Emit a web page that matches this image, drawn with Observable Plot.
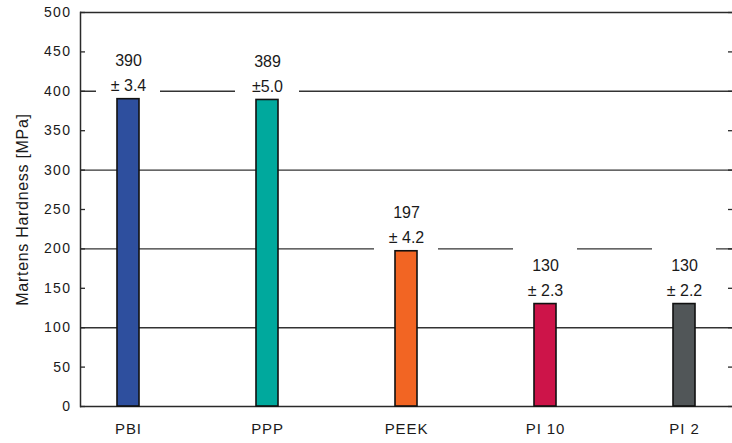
<!DOCTYPE html>
<html>
<head>
<meta charset="utf-8">
<script src="https://cdn.jsdelivr.net/npm/d3@7"></script>
<script src="https://cdn.jsdelivr.net/npm/@observablehq/plot@0.6"></script>
<style>
  html, body { margin: 0; padding: 0; background: #fff; overflow: hidden; }
  #chart svg { display: block; }
  #chart g[aria-label="y-axis tick label"] text { letter-spacing: 1.4px; }
  #chart g[aria-label="x-axis tick label"] text { letter-spacing: 0.9px; }
  #chart g.ylab text { letter-spacing: 0.7px; }
</style>
</head>
<body>
<div id="chart"></div>
<script>
// ---- data ----
const materials = ["PBI", "PPP", "PEEK", "PI 10", "PI 2"];
const hardness = [390, 389, 197, 130, 130];
const errors = ["± 3.4", "±5.0", "± 4.2", "± 2.3", "± 2.2"];
const barColors = ["#2e4f9e", "#00a99d", "#f26523", "#cd1449", "#515658"];
const gridValues = [100, 200, 300, 400];
const yTicks = [0, 50, 100, 150, 200, 250, 300, 350, 400, 450, 500];
const yTitle = "Martens Hardness [MPa]";

const rows = materials.map((m, i) => ({
  material: m,
  value: hardness[i],
  label: `${hardness[i]}\n${errors[i]}`,
  color: barColors[i]
}));

const W = 732, H = 443;
const mL = 80, mR = 0, mT = 12, mB = 37;
const plotW = W - mL - mR;

const chart = Plot.plot({
  width: W,
  height: H,
  marginLeft: mL,
  marginRight: mR,
  marginTop: mT,
  marginBottom: mB,
  style: { fontFamily: "'Liberation Sans', Arial, Helvetica, sans-serif", background: "white", color: "#1a1a1a" },
  x: { type: "band", domain: materials, paddingInner: 0.84, paddingOuter: 0.264, label: null },
  y: { domain: [0, 500], label: null },
  color: { type: "identity" },
  marks: [
    // gridlines and frame lines
    Plot.ruleY(gridValues, { stroke: "#333", strokeWidth: 1.4 }),
    Plot.ruleY([0, 500], { stroke: "#2a2a2a", strokeWidth: 1.5 }),
    Plot.frame({ anchor: "left", stroke: "#2a2a2a", strokeWidth: 1.5 }),
    // inward minor ticks (left and right)
    Plot.tickY(yTicks, { y: d => d, stroke: "#2a2a2a", strokeWidth: 1.3, insetRight: plotW - 5 }),
    Plot.tickY(yTicks, { y: d => d, stroke: "#2a2a2a", strokeWidth: 1.3, insetLeft: plotW - 4 }),
    // white label backgrounds that interrupt the gridlines
    Plot.barY(rows, { x: "material", y1: "value", y2: d => d.value + 78, fill: "white", insetLeft: -21, insetRight: -21 }),
    // bars
    Plot.barY(rows, { x: "material", y: "value", fill: "color", stroke: "#111", strokeWidth: 1.6 }),
    // value labels
    Plot.text(rows, {
      x: "material", y: "value", text: "label",
      lineAnchor: "bottom", lineHeight: 1.55, dy: -8,
      fontSize: 16, fill: "#1a1a1a"
    }),
    // axes
    Plot.axisY({ ticks: yTicks, tickSize: 0, tickPadding: 9, fontSize: 14, label: null }),
    Plot.text([yTitle], {
      text: d => d, frameAnchor: "left", textAnchor: "middle", rotate: -90, dx: -58,
      fontSize: 16, fill: "#1a1a1a", className: "ylab"
    }),
    Plot.axisX({ tickSize: 0, tickPadding: 17, fontSize: 15, label: null })
  ]
});

document.getElementById("chart").appendChild(chart);
</script>
</body>
</html>
